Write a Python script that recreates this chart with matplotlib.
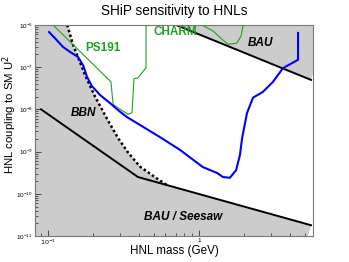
import numpy as np
import matplotlib
matplotlib.use('Agg')
import matplotlib.pyplot as plt
from matplotlib.ticker import LogLocator, FixedLocator, FixedFormatter, NullFormatter

plt.rcParams['font.family'] = ['Liberation Sans', 'DejaVu Sans']

# SHiP sensitivity (blue)
ship_m = [0.1016, 0.111, 0.126, 0.14, 0.158, 0.171, 0.181, 0.195, 0.221, 0.258, 0.30, 0.333,
          0.552, 0.748, 1.06, 1.32, 1.44, 1.6, 1.76, 1.87, 1.93, 2.08, 2.28, 2.65, 3.09, 3.6,
          4.53, 4.53]
ship_u2 = [6.8e-7, 4.9e-7, 3.0e-7, 2.3e-7, 1.75e-7, 1.1e-7, 6.0e-8, 3.6e-8, 2.2e-8, 1.4e-8, 8.8e-9, 6.6e-9,
           2.2e-9, 1.1e-9, 4.3e-10, 3.1e-10, 2.5e-10, 2.4e-10, 3.6e-10, 8.5e-10, 2.1e-9, 8.2e-9, 1.9e-8,
           2.6e-8, 4.5e-8, 9.5e-8, 1.5e-7, 6.5e-7]

# PS191 and CHARM limits (green)
ps191_m = [0.108, 0.261, 0.27, 0.339, 0.36, 0.371, 0.394, 0.446, 0.446]
ps191_u2 = [1e-6, 4.5e-8, 1.3e-8, 7.6e-9, 8.3e-9, 5.3e-8, 5.6e-8, 9.7e-8, 1e-6]
charm_m = [1.047, 1.24, 1.44, 1.56, 1.78, 1.90, 1.96]
charm_u2 = [1e-6, 7.2e-7, 4.4e-7, 3.5e-7, 3.7e-7, 5.5e-7, 1e-6]

# BBN (dotted), seesaw, BAU
bbn_m = [0.134, 0.147, 0.176, 0.205, 0.246, 0.291, 0.339, 0.407, 0.527, 0.614]
bbn_u2 = [1e-6, 3.3e-7, 6.5e-8, 2.0e-8, 6e-9, 2.1e-9, 9.5e-10, 4.4e-10, 2.3e-10, 1.6e-10]
seesaw_m = [0.09, 0.394, 5.52]
seesaw_u2 = [1.0e-8, 2.5e-10, 1.8e-11]
bau_m = [0.704, 5.52]
bau_u2 = [1e-6, 5e-8]

xmin, xmax = 0.082, 5.69
ymin, ymax = 1e-11, 1e-6
grey = '#cccccc'

fig = plt.figure(figsize=(3.49, 2.62), dpi=100)
ax = fig.add_axes([35/349, 1-236/262, (313-35)/349, (236-25)/262])
ax.set_xscale('log')
ax.set_yscale('log')
ax.set_xlim(xmin, xmax)
ax.set_ylim(ymin, ymax)

# grey excluded regions
px = [xmin, xmin] + bbn_m + seesaw_m[2:] + [5.27]
py = [ymin, ymax] + bbn_u2 + seesaw_u2[2:] + [ymin]
ax.fill(px, py, color=grey, lw=0, zorder=0)
px = bau_m + [xmax, xmax]
py = bau_u2 + [7e-8, ymax]
ax.fill(px, py, color=grey, lw=0, zorder=0)

ax.plot(bbn_m, bbn_u2, color='black', lw=1.8, ls=(0, (1, 1)), zorder=2)
ax.plot(seesaw_m, seesaw_u2, color='black', lw=1.4, zorder=2)
ax.plot(bau_m, bau_u2, color='black', lw=1.4, zorder=2)
ax.plot(ps191_m, ps191_u2, color='#22a022', lw=0.8, zorder=3)
ax.plot(charm_m, charm_u2, color='#22a022', lw=0.8, zorder=3)
ax.plot(ship_m, ship_u2, color='#0000ff', lw=1.5, zorder=4)

kw = dict(ha='center', va='center', fontsize=8.5, fontweight='bold')
ax.text(0.231, 2.85e-7, 'PS191', color='#22a022', **kw)
ax.text(0.694, 6.8e-7, 'CHARM', color='#22a022', **kw)
ax.text(2.57, 3.7e-7, 'BAU', color='black', style='italic', **kw)
ax.text(0.171, 8.2e-9, 'BBN', color='black', style='italic', **kw)
ax.text(0.783, 2.8e-11, 'BAU / Seesaw', color='black', style='italic', **kw)

# axes styling (ROOT-like)
for s in ax.spines.values():
    s.set_color('#777777')
    s.set_linewidth(0.8)
ax.xaxis.set_major_locator(FixedLocator([0.1, 1]))
ax.xaxis.set_major_formatter(FixedFormatter([r'$10^{-1}$', '1']))
ax.xaxis.set_minor_locator(LogLocator(base=10, subs=np.arange(2, 10)))
ax.xaxis.set_minor_formatter(NullFormatter())
ax.yaxis.set_major_locator(LogLocator(base=10, numticks=10))
ax.yaxis.set_minor_locator(LogLocator(base=10, subs=np.arange(2, 10), numticks=10))
ax.yaxis.set_minor_formatter(NullFormatter())
ax.tick_params(which='both', direction='in', color='#444444', labelsize=4.6, pad=1.5)
ax.tick_params(which='major', length=4.3, width=0.7)
ax.tick_params(which='minor', length=2.2, width=0.6)

ax.set_title('SHiP sensitivity to HNLs', fontsize=9.8, pad=7)
ax.set_xlabel('HNL mass (GeV)', fontsize=8.4)
ax.xaxis.set_label_coords(0.5, -0.045)
ax.xaxis.label.set_va('top')
ax.set_ylabel('HNL coupling to SM U$^2$', fontsize=8.2)
ax.yaxis.set_label_coords(-0.058, 0.578)

fig.savefig('out.png', dpi=100)
